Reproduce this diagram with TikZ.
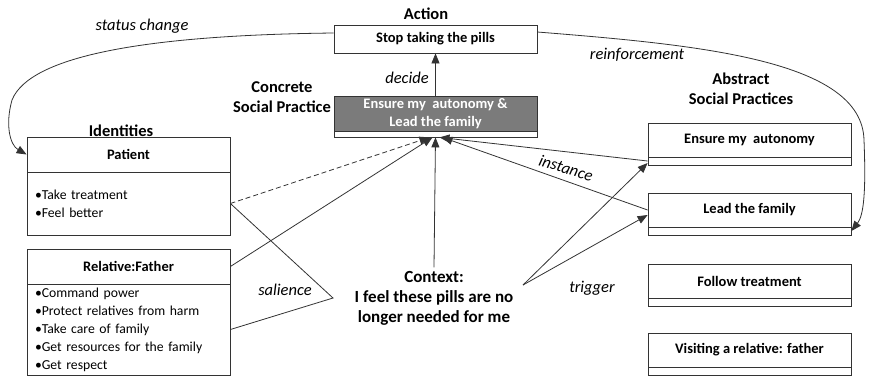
\documentclass[tikz,border=0pt]{standalone}
\usepackage{fontspec}
\setmainfont{Carlito}
\usetikzlibrary{arrows.meta,calc}
\definecolor{inkline}{HTML}{333333}
\definecolor{concfill}{HTML}{7B7B7B}
\begin{document}
\begin{tikzpicture}[x=1pt,y=-1pt,
  line/.style={draw=inkline,line width=0.8pt},
  arr/.style={line,-{Triangle[length=10pt,width=8pt]}},
  box/.style={draw=inkline,line width=0.8pt,fill=white,minimum width=203pt,
    inner sep=0pt,align=center,font=\bfseries\fontsize{14.5}{18}\selectfont},
  strip/.style={draw=inkline,line width=0.8pt,fill=white,minimum width=203pt,
    minimum height=8pt,inner sep=0pt},
  bodybox/.style={draw=inkline,line width=0.8pt,fill=white,minimum width=203pt,
    text width=187pt,inner sep=0pt,align=left,font=\fontsize{13.7}{18}\selectfont},
  heading/.style={align=center,font=\bfseries\fontsize{16.5}{20.5}\selectfont},
  ctxtext/.style={align=center,font=\bfseries\fontsize{17}{20}\selectfont},
  lbl/.style={font=\itshape\fontsize{16.5}{18}\selectfont}
]
\useasboundingbox (0,0) rectangle (873,376);

% headings
\node[heading] (hAction) at (426,14) {Action};
\node[heading] (hConc) at (282,97) {Concrete\\Social Practice};
\node[heading] (hId) at (121,131) {Identities};
\node[heading] (hAbs) at (741,89) {Abstract\\Social Practices};

% action and concrete practice
\node[box,minimum height=28pt] (act) at (435.5,39) {Stop taking the pills};
\node[box,minimum height=35pt,fill=concfill,text=white] (conc) at (435.5,113.5)
  {Ensure my\ \ autonomy \&\\Lead the family};
\node[strip,minimum height=6pt] (concs) at (435.5,134) {};

% identities
\node[box,minimum height=35pt] (ph) at (128.5,154.5) {Patient};
\node[bodybox,minimum height=63pt] (pb) at (128.5,203.5)
  {•Take treatment\\•Feel better};
\node[box,minimum height=35pt] (rh) at (128.5,266.5) {Relative:Father};
\node[bodybox,minimum height=91pt] (rb) at (128.5,329.5)
  {•Command power\\•Protect relatives from harm\\•Take care of family\\%
   •Get resources for the family\\•Get respect};

% abstract practices
\node[box,minimum height=34pt] (ea) at (749.5,140) {Ensure my\ \ autonomy};
\node[strip] (eas) at (749.5,161) {};
\node[box,minimum height=34pt] (lf) at (749.5,210) {Lead the family};
\node[strip] (lfs) at (749.5,231) {};
\node[box,minimum height=34pt] (ft) at (749.5,281) {Follow treatment};
\node[strip] (fts) at (749.5,302) {};
\node[box,minimum height=34pt] (vr) at (749.5,350) {Visiting a relative: father};
\node[strip] (vrs) at (749.5,371) {};

% context
\node[ctxtext] (ctx) at (434,298)
  {Context:\\I feel these pills are no\\longer needed for me};

% free ends
\coordinate (salTip) at (333,298);
\coordinate (trigTip) at (523,285);

% connectors
\draw[arr] (conc.north) -- (act.south);
\draw[arr] (ctx.north) -- (concs.south);
\draw[arr,dashed,dash pattern=on 5pt off 3pt] (pb.east) -- ([xshift=-6pt]concs.south);
\draw[arr] (rh.east) -- ([xshift=-3pt]concs.south);
\draw[arr] (eas.west) -- ([xshift=4pt]concs.south);
\draw[arr] (lf.west) -- ([xshift=7pt]concs.south);
\draw[line] (pb.east) -- (salTip) -- (rb.east);
\draw[arr] (trigTip) -- ([yshift=-2pt]eas.west);
\draw[arr] (trigTip) -- ([yshift=-5pt]lf.west);

\draw[arr] ([yshift=6pt]act.west) .. controls (150,35) and (30,55) .. (12,100)
  .. controls (5,125) and (10,145) .. (ph.west);
\draw[arr] ([yshift=7pt]act.east) .. controls (700,45) and (862,60) .. (864,140)
  .. controls (866,190) and (864,215) .. (lfs.east);

% labels
\node[lbl] (lStatus) at (142,26) {status change};
\node[lbl] (lReinf) at (637,55) {reinforcement};
\node[lbl] (lDecide) at (407,78) {decide};
\node[lbl,rotate=-17,inner sep=1pt] (lInst) at (566,168) {instance};
\node[lbl] (lSal) at (285,290) {salience};
\node[lbl] (lTrig) at (592,288) {trigger};
\end{tikzpicture}
\end{document}
